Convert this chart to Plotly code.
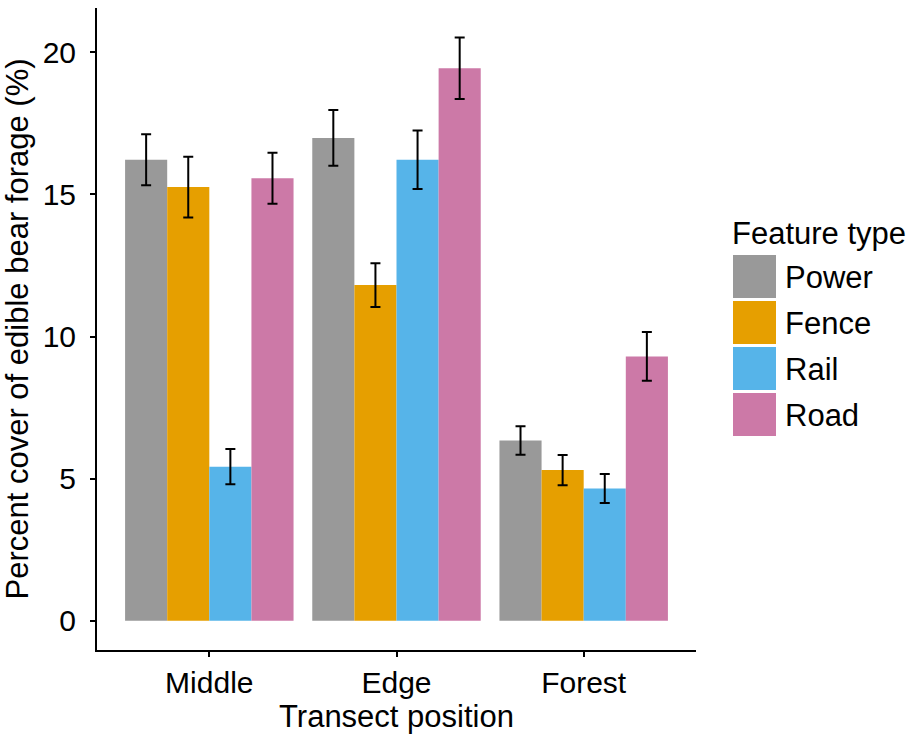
import plotly.graph_objects as go

positions = ["Middle", "Edge", "Forest"]
feature_types = ["Power", "Fence", "Rail", "Road"]
colors = ["#999999", "#E69F00", "#56B4E9", "#CC79A7"]

# mean percent cover per feature type (order: Middle, Edge, Forest)
means = {
    "Power": [16.22, 16.99, 6.34],
    "Fence": [15.26, 11.81, 5.30],
    "Rail":  [5.42, 16.22, 4.65],
    "Road":  [15.57, 19.44, 9.30],
}
# standard errors
errors = {
    "Power": [0.90, 0.98, 0.50],
    "Fence": [1.07, 0.77, 0.53],
    "Rail":  [0.62, 1.03, 0.51],
    "Road":  [0.90, 1.08, 0.86],
}

W, H = 917, 734
ML, MR, MT, MB = 97, 221, 8, 84
FONT = "Liberation Sans, Arial, sans-serif"
FS = 31

fig = go.Figure()
for ft, col in zip(feature_types, colors):
    fig.add_trace(go.Bar(
        x=positions, y=means[ft], name=ft,
        marker=dict(color=col, line=dict(width=0)),
        error_y=dict(type="data", array=errors[ft], color="black",
                     thickness=2, width=5),
        showlegend=False,
    ))

# custom ggplot-like legend
pw = W - ML - MR
ph = H - MT - MB
def px_x(p):
    return (p - ML) / pw
def px_y(p):
    return (H - MB - p) / ph

shapes = []
annotations = []
annotations.append(dict(text="Feature type", x=px_x(730), y=px_y(233), xref="paper", yref="paper",
                        xanchor="left", yanchor="middle", showarrow=False,
                        font=dict(size=FS, color="black", family=FONT)))
key_top = 255
pitch = 46
for i, (ft, col) in enumerate(zip(feature_types, colors)):
    t = key_top + i * pitch
    shapes.append(dict(type="rect", xref="paper", yref="paper",
                       x0=px_x(733), x1=px_x(776), y0=px_y(t + 43), y1=px_y(t),
                       fillcolor=col, line=dict(width=0)))
    annotations.append(dict(text=ft, x=px_x(783), y=px_y(t + 22), xref="paper", yref="paper",
                            xanchor="left", yanchor="middle", showarrow=False,
                            font=dict(size=FS, color="black", family=FONT)))

fig.update_layout(
    width=W, height=H,
    margin=dict(l=ML, r=MR, t=MT, b=MB, autoexpand=False),
    plot_bgcolor="white", paper_bgcolor="white",
    barmode="group", bargap=0.1, bargroupgap=0,
    font=dict(family=FONT, size=FS, color="black"),
    shapes=shapes, annotations=annotations,
    xaxis=dict(
        range=[-0.6, 2.6], showline=True, linecolor="black", linewidth=2,
        ticks="outside", ticklen=5, tickwidth=2, tickcolor="black",
        showgrid=False, zeroline=False, automargin=False,
        tickfont=dict(size=30, color="black"),
        ticklabelstandoff=0,
        title=dict(text="Transect position", font=dict(size=FS, color="black"), standoff=8),
    ),
    yaxis=dict(
        range=[-1.03, 21.56], showline=True, linecolor="black", linewidth=2,
        ticks="outside", ticklen=5, tickwidth=2, tickcolor="black",
        showgrid=False, zeroline=False, automargin=False,
        tickvals=[0, 5, 10, 15, 20],
        tickfont=dict(size=30, color="black"),
        ticklabelstandoff=8,
        title=dict(text="Percent cover of edible bear forage (%)", font=dict(size=FS, color="black"), standoff=6),
    ),
)

fig.write_html("out.html")
